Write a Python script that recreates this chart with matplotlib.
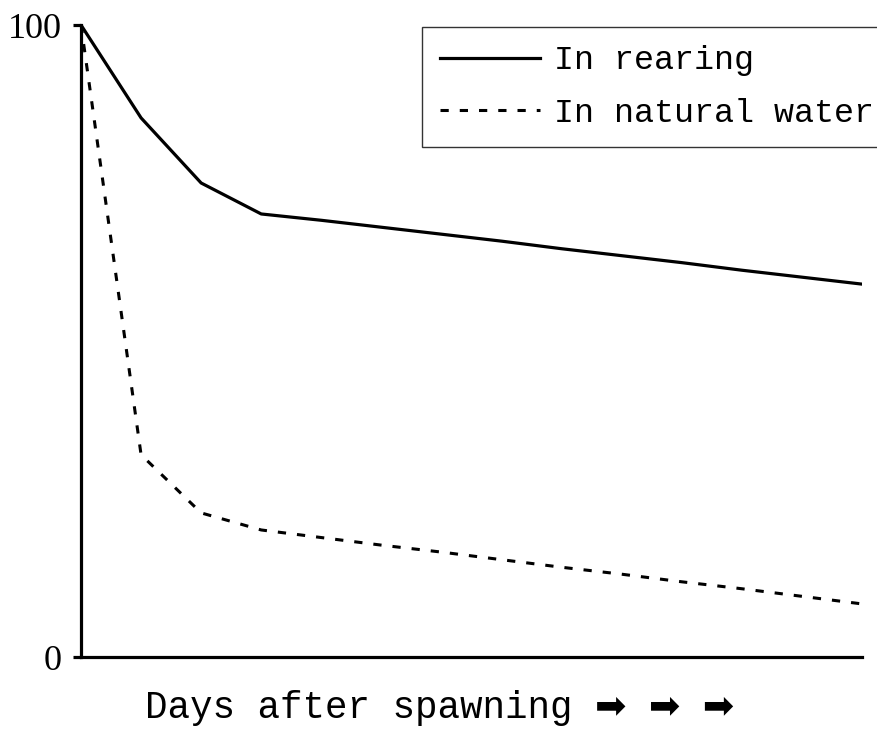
import matplotlib
matplotlib.use('Agg')
from matplotlib import pyplot as plt

# days after spawning (arbitrary steps) and survival (%)
days = [0, 1, 2, 3, 4, 5, 6, 7, 8, 9, 10, 11, 12, 13]
rearing = [100, 85.3, 75.0, 70.1, 69.1, 68.0, 66.9, 65.8, 64.6, 63.5, 62.4, 61.2, 60.1, 59.0]
natural = [100, 32.0, 22.8, 20.1, 18.9, 17.7, 16.6, 15.4, 14.2, 13.1, 11.9, 10.8, 9.6, 8.4]

fig = plt.figure(figsize=(8.77, 7.36), dpi=100)
ax = fig.add_axes([81 / 877, 79 / 736, 781 / 877, 632 / 736])

ax.plot(days, rearing, color='black', lw=2.3, label='In rearing')
ax.plot(days, natural, color='black', lw=2.2, linestyle=(0, (2.7, 3.6)), label='In natural water')

ax.set_xlim(0, 13)
ax.set_ylim(0, 100)
for s in ['top', 'right']:
    ax.spines[s].set_visible(False)
for s in ['left', 'bottom']:
    ax.spines[s].set_linewidth(2.3)
ax.set_xticks([])
ax.set_yticks([0, 100])
ax.set_yticklabels(['0', '100'], family='Liberation Serif', fontsize=26)
ax.tick_params(axis='y', length=6, width=2.3, pad=8)

leg = ax.legend(loc='upper left', bbox_to_anchor=(422 / 877, 1 - 27 / 736),
                bbox_transform=fig.transFigure, frameon=True, fancybox=False,
                prop={'family': 'Liberation Mono', 'size': 24},
                handlelength=3.0, handletextpad=0.4, borderpad=0.55,
                labelspacing=0.65, borderaxespad=0)
leg.get_frame().set_edgecolor('black')
leg.get_frame().set_linewidth(1.0)

fig.text(440 / 877, 1 - 708 / 736, 'Days after spawning \u27a1 \u27a1 \u27a1',
         family=['Liberation Mono', 'DejaVu Sans'], fontsize=27,
         ha='center', va='center')

fig.savefig('out.png', dpi=100)
